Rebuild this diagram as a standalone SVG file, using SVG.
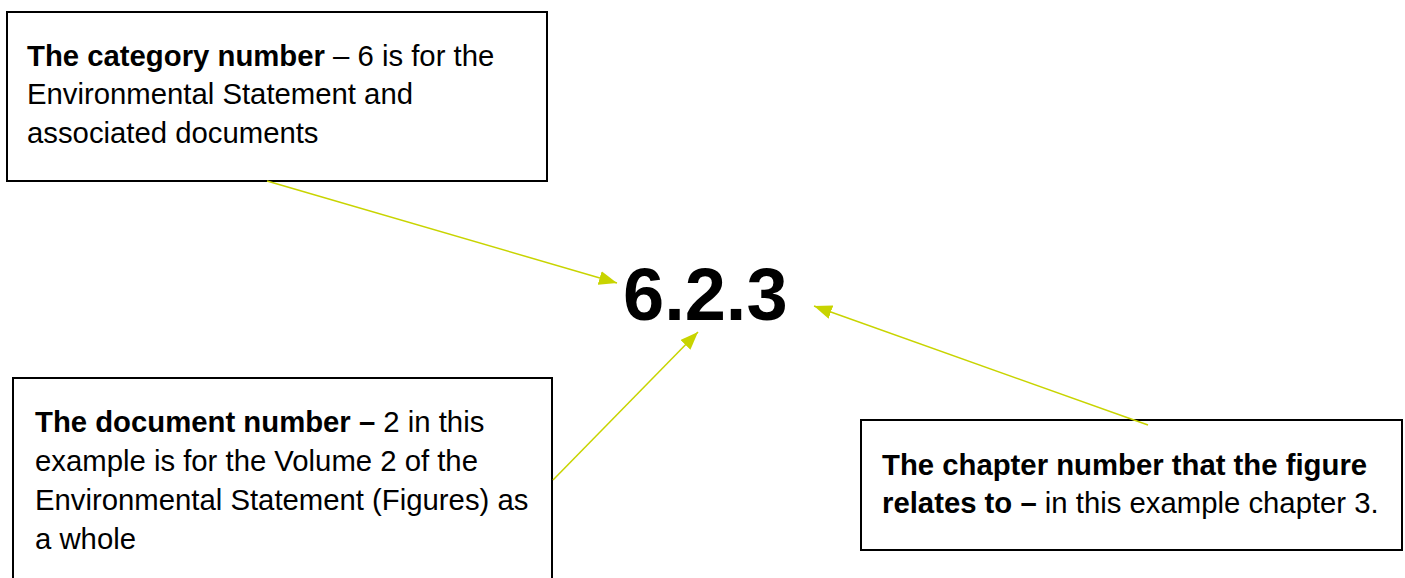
<svg xmlns="http://www.w3.org/2000/svg" width="1405" height="578" viewBox="0 0 1405 578">
  <style>
    .box { fill: #ffffff; stroke: #000000; stroke-width: 2; }
    .txt { font-family: "Liberation Sans", Arial, sans-serif; font-size: 29.3px; fill: #000000; }
    .b { font-weight: bold; }
    .code { font-family: "Liberation Sans", Arial, sans-serif; font-size: 74px; font-weight: bold; fill: #000000; }
    .link { stroke: #c8d400; stroke-width: 1.5; fill: none; marker-end: url(#head); }
  </style>
  <defs>
    <marker id="head" viewBox="0 0 18 14" refX="18" refY="7" markerWidth="18" markerHeight="14" markerUnits="userSpaceOnUse" orient="auto">
      <path d="M0,0 L18,7 L0,14 z" fill="#c8d400"/>
    </marker>
  </defs>
  <rect width="1405" height="578" fill="#ffffff"/>

  <g id="category">
    <rect class="box" x="7" y="12" width="540" height="169"/>
    <text class="txt" x="27" y="66"><tspan class="b">The category number</tspan> – 6 is for the</text>
    <text class="txt" x="27" y="104">Environmental Statement and</text>
    <text class="txt" x="27" y="143">associated documents</text>
  </g>

  <g id="document">
    <rect class="box" x="13" y="378" width="539" height="210"/>
    <text class="txt" x="35" y="432"><tspan class="b">The document number –</tspan> 2 in this</text>
    <text class="txt" x="35" y="471">example is for the Volume 2 of the</text>
    <text class="txt" x="35" y="510">Environmental Statement (Figures) as</text>
    <text class="txt" x="35" y="549">a whole</text>
  </g>

  <g id="chapter">
    <rect class="box" x="861" y="420" width="541" height="130"/>
    <text class="txt" x="882" y="475"><tspan class="b">The chapter number that the figure</tspan></text>
    <text class="txt" x="882" y="513"><tspan class="b">relates to –</tspan> in this example chapter 3.</text>
  </g>

  <g id="number">
    <text class="code" x="623" y="320">6.2.3</text>
  </g>

  <g id="connectors">
    <line class="link" x1="267" y1="181" x2="617" y2="283"/>
    <line class="link" x1="553" y1="480" x2="698" y2="332"/>
    <line class="link" x1="1148" y1="425" x2="814" y2="306"/>
  </g>
</svg>
